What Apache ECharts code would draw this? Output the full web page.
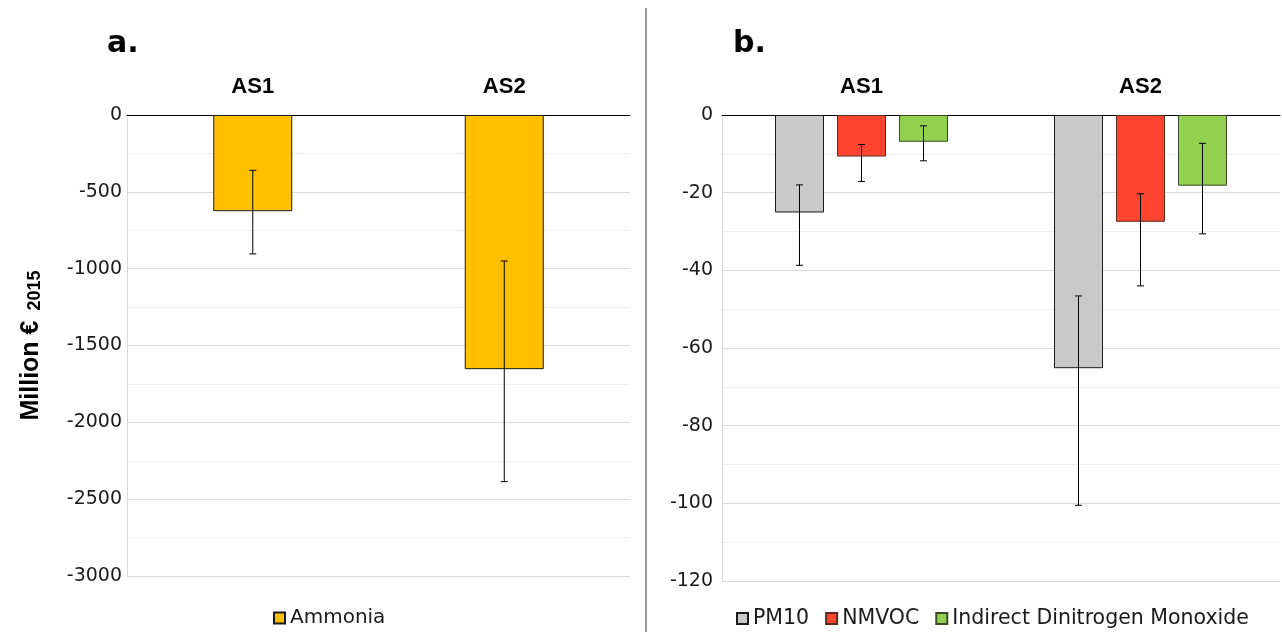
<!DOCTYPE html>
<html>
<head>
<meta charset="utf-8">
<script src="https://cdn.jsdelivr.net/npm/echarts@6/dist/echarts.min.js"></script>
<style>html,body{margin:0;padding:0;background:#fff}#c{width:1282px;height:632px}</style>
</head>
<body>
<div id="c"></div>
<script>
// ---- data ----
const categories = ['AS1', 'AS2'];
// panel a
const ammonia = [-626, -1654];
const ammoniaErrLow = [-904, -2386];
const ammoniaErrHigh = [-360, -950];
// panel b
const pm10 = [-25.1, -65.2];
const pm10ErrLow = [-38.7, -100.5];
const pm10ErrHigh = [-18.0, -46.6];
const nmvoc = [-10.7, -27.5];
const nmvocErrLow = [-17.1, -44.0];
const nmvocErrHigh = [-7.6, -20.3];
const n2o = [-6.9, -18.2];
const n2oErrLow = [-11.8, -30.6];
const n2oErrHigh = [-2.8, -7.3];
const leftTicks = { min: -3000, max: 0, interval: 500 };
const rightTicks = { min: -120, max: 0, interval: 20 };

const FONT = 'DejaVu Sans';
const TXT = '#1a1a1a';

function errData(lo, hi) {
  return categories.map((c, i) => [i, lo[i], hi[i]]);
}
function errSeries(name, xi, yi, lo, hi, offset) {
  return {
    type: 'custom', name: name + ' err', xAxisIndex: xi, yAxisIndex: yi, z: 10,
    data: errData(lo, hi),
    encode: { x: 0, y: [1, 2] },
    renderItem: function (params, api) {
      const c = api.value(0);
      const p1 = api.coord([c, api.value(1)]);
      const p2 = api.coord([c, api.value(2)]);
      const x = p1[0] + offset;
      const h = 3.5;
      const st = { stroke: '#000', lineWidth: 1 };
      return {
        type: 'group',
        children: [
          { type: 'line', shape: { x1: x, y1: p1[1], x2: x, y2: p2[1] }, style: st },
          { type: 'line', shape: { x1: x - h, y1: p1[1], x2: x + h, y2: p1[1] }, style: st },
          { type: 'line', shape: { x1: x - h, y1: p2[1], x2: x + h, y2: p2[1] }, style: st }
        ]
      };
    }
  };
}

const BW = 49, GAP = 0.265;
const step = BW * (1 + GAP);

function yAxisCommon(t) {
  return {
    type: 'value', min: t.min, max: t.max, interval: t.interval,
    axisLine: { show: true, lineStyle: { color: '#d9d9d9', width: 1 } },
    axisTick: { show: false },
    splitLine: { show: true, lineStyle: { color: '#d9d9d9', width: 1 } },
    minorTick: { show: false, splitNumber: 2 },
    minorSplitLine: { show: true, lineStyle: { color: '#efefef', width: 1 } },
    axisLabel: { color: TXT, fontFamily: FONT, fontSize: 19, formatter: v => String(v) }
  };
}
function xAxisCommon(gi) {
  return {
    type: 'category', gridIndex: gi, data: categories, position: 'top',
    axisLine: { show: true, onZero: false, lineStyle: { color: '#000', width: 1 } },
    axisTick: { show: false },
    splitLine: { show: false },
    axisLabel: { color: '#000', fontFamily: 'Liberation Sans', fontWeight: 'bold', fontSize: 22, margin: 17 }
  };
}

const chart = echarts.init(document.getElementById('c'), null, { renderer: 'canvas' });
const yl = yAxisCommon(leftTicks);
yl.gridIndex = 0;
yl.axisLabel.margin = 5;
yl.name = '{a|Million €}   {b|2015}';
yl.nameLocation = 'middle';
yl.nameGap = 83;
yl.nameRotate = 90;
yl.nameTextStyle = {
  rich: {
    a: { fontFamily: 'Liberation Sans', fontWeight: 'bold', fontSize: 25, color: '#000' },
    b: { fontFamily: 'Liberation Sans', fontWeight: 'bold', fontSize: 18, color: '#000', verticalAlign: 'bottom', padding: [7, 0, 0, 0] }
  }
};
const yr = yAxisCommon(rightTicks);
yr.gridIndex = 1;
yr.axisLabel.margin = 9;

const option = {
  animation: false,
  backgroundColor: '#fff',
  grid: [
    { left: 127, top: 115, width: 503, height: 461, containLabel: false },
    { left: 722, top: 115, width: 558, height: 466, containLabel: false }
  ],
  xAxis: [xAxisCommon(0), xAxisCommon(1)],
  yAxis: [yl, yr],
  legend: [
    {
      data: ['Ammonia'], left: 268, top: 603, itemWidth: 11, itemHeight: 11, itemGap: 12,
      icon: 'rect', textStyle: { color: TXT, fontFamily: FONT, fontSize: 20 }
    },
    {
      data: ['PM10', 'NMVOC', 'Indirect Dinitrogen Monoxide'], left: 731, top: 603,
      itemWidth: 11, itemHeight: 11, itemGap: 16, icon: 'rect',
      textStyle: { color: TXT, fontFamily: FONT, fontSize: 20.5 }
    }
  ],
  title: [
    { text: 'a.', left: 102, top: 24, textStyle: { fontFamily: FONT, fontWeight: 'bold', fontSize: 30, color: '#000' } },
    { text: 'b.', left: 728, top: 24, textStyle: { fontFamily: FONT, fontWeight: 'bold', fontSize: 30, color: '#000' } }
  ],
  graphic: [
    { type: 'line', shape: { x1: 646, y1: 8, x2: 646, y2: 632 }, style: { stroke: '#999', lineWidth: 2 } }
  ],
  series: [
    { type: 'bar', name: 'Ammonia', xAxisIndex: 0, yAxisIndex: 0, data: ammonia, barWidth: 79,
      itemStyle: { color: '#FFC000', borderColor: '#1a1a1a', borderWidth: 1 } },
    errSeries('Ammonia', 0, 0, ammoniaErrLow, ammoniaErrHigh, 0),
    { type: 'bar', name: 'PM10', xAxisIndex: 1, yAxisIndex: 1, data: pm10, barWidth: BW, barGap: (GAP * 100) + '%',
      itemStyle: { color: '#C9C9C9', borderColor: '#1a1a1a', borderWidth: 1 } },
    { type: 'bar', name: 'NMVOC', xAxisIndex: 1, yAxisIndex: 1, data: nmvoc, barWidth: BW, barGap: (GAP * 100) + '%',
      itemStyle: { color: '#FF4530', borderColor: '#5a2a20', borderWidth: 1 } },
    { type: 'bar', name: 'Indirect Dinitrogen Monoxide', xAxisIndex: 1, yAxisIndex: 1, data: n2o, barWidth: BW, barGap: (GAP * 100) + '%',
      itemStyle: { color: '#92D050', borderColor: '#3a4a2a', borderWidth: 1 } },
    errSeries('PM10', 1, 1, pm10ErrLow, pm10ErrHigh, -step),
    errSeries('NMVOC', 1, 1, nmvocErrLow, nmvocErrHigh, 0),
    errSeries('Indirect Dinitrogen Monoxide', 1, 1, n2oErrLow, n2oErrHigh, step)
  ]
};
chart.setOption(option);
</script>
</body>
</html>
